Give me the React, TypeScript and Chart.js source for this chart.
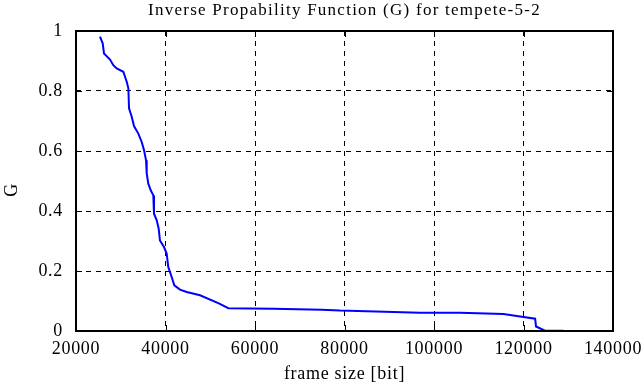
import React, { useEffect, useRef } from "react";
import { Chart, registerables } from "chart.js";

Chart.register(...registerables);

const titleText = "Inverse Propability Function (G) for tempete-5-2";
const xLabel = "frame size [bit]";
const yLabel = "G";

const frameSizes = [
  25363, 25966, 26258, 27600, 28340, 29090, 30580, 31330, 31700, 31850, 32450,
  32960, 33930, 34680, 35200, 35650, 35800, 36160, 36700, 37280, 37430, 38040,
  38480, 38760, 39660, 40260, 40620, 41380, 41970, 43240, 44740, 47720, 52030,
  54040, 64100, 74900, 78990, 96880, 105820, 115500, 119240, 122600, 122800,
  124800, 128900,
];
const gValues = [
  0.981, 0.959, 0.925, 0.905, 0.886, 0.875, 0.864, 0.831, 0.809, 0.742, 0.714,
  0.683, 0.658, 0.63, 0.603, 0.569, 0.525, 0.491, 0.469, 0.452, 0.391, 0.369,
  0.341, 0.302, 0.28, 0.258, 0.213, 0.18, 0.152, 0.138, 0.13, 0.119, 0.091,
  0.076, 0.074, 0.071, 0.068, 0.061, 0.061, 0.057, 0.048, 0.041, 0.015, 0.001,
  0.001,
];

const FONT = "'Liberation Serif', 'DejaVu Serif', serif";
const SPACING = "0.7px";

const framePlugin = {
  id: "framePlugin",
  beforeUpdate(chart: any) {
    chart.ctx.letterSpacing = SPACING;
  },
  beforeDraw(chart: any) {
    chart.ctx.letterSpacing = SPACING;
  },
  afterDraw(chart: any) {
    const { ctx, chartArea: a, scales } = chart;
    ctx.save();
    ctx.strokeStyle = "#000";
    ctx.lineWidth = 1;
    ctx.setLineDash([]);
    const t = 6;
    scales.x.ticks.forEach((tk: any) => {
      const px = Math.round(scales.x.getPixelForValue(tk.value)) + 0.5;
      ctx.beginPath();
      ctx.moveTo(px, a.bottom);
      ctx.lineTo(px, a.bottom - t);
      ctx.moveTo(px, a.top);
      ctx.lineTo(px, a.top + t);
      ctx.stroke();
    });
    scales.y.ticks.forEach((tk: any) => {
      const py = Math.round(scales.y.getPixelForValue(tk.value)) + 0.5;
      ctx.beginPath();
      ctx.moveTo(a.left, py);
      ctx.lineTo(a.left + t, py);
      ctx.moveTo(a.right, py);
      ctx.lineTo(a.right - t, py);
      ctx.stroke();
    });
    ctx.lineWidth = 2;
    ctx.strokeRect(a.left, a.top, a.right - a.left, a.bottom - a.top);
    ctx.fillStyle = "#000";
    ctx.letterSpacing = "1.25px";
    ctx.font = `17px ${FONT}`;
    ctx.textAlign = "center";
    ctx.textBaseline = "alphabetic";
    ctx.fillText(titleText, (a.left + a.right) / 2, 15);
    ctx.letterSpacing = SPACING;
    ctx.font = `18px ${FONT}`;
    ctx.translate(12, 190);
    ctx.rotate(-Math.PI / 2);
    ctx.textBaseline = "middle";
    ctx.fillText(yLabel, 0, 0);
    ctx.restore();
  },
};

export default function App() {
  const ref = useRef<HTMLCanvasElement | null>(null);
  useEffect(() => {
    document.body.style.margin = "0";
    const data = frameSizes.map((x, i) => ({ x, y: gValues[i] }));
    const chart = new Chart(ref.current as HTMLCanvasElement, {
      type: "line",
      data: {
        datasets: [
          {
            data,
            borderColor: "#0000ff",
            borderWidth: 2,
            pointRadius: 0,
            fill: false,
            tension: 0,
          },
        ],
      },
      options: {
        animation: false,
        responsive: false,
        maintainAspectRatio: false,
        layout: { padding: { top: 31, right: 31, left: 0, bottom: 0 } },
        plugins: { legend: { display: false }, tooltip: { enabled: false }, title: { display: false } },
        scales: {
          x: {
            type: "linear",
            min: 20000,
            max: 140000,
            afterFit: (s: any) => {
              s.height = 56;
              s.paddingRight = 0;
              s.paddingLeft = 0;
            },
            grid: { color: "#000", lineWidth: 1, drawTicks: false },
            border: { display: false, dash: [5, 5] },
            ticks: {
              stepSize: 20000,
              color: "#000",
              font: { family: FONT, size: 18 },
              padding: 7,
              maxRotation: 0,
              autoSkip: false,
              callback: (v: any) => String(v),
            },
            title: {
              display: true,
              text: xLabel,
              color: "#000",
              font: { family: FONT, size: 18 },
              padding: { top: 0, bottom: 2 },
            },
          },
          y: {
            min: 0,
            max: 1,
            afterFit: (s: any) => {
              s.width = 76;
              s.paddingTop = 0;
              s.paddingBottom = 0;
            },
            grid: { color: "#000", lineWidth: 1, drawTicks: false },
            border: { display: false, dash: [5, 5] },
            ticks: {
              stepSize: 0.2,
              color: "#000",
              font: { family: FONT, size: 18 },
              padding: 13,
              callback: (v: any) => String(Math.round(v * 10) / 10),
            },
            title: { display: false, text: yLabel },
          },
        },
      },
      plugins: [framePlugin],
    });
    return () => chart.destroy();
  }, []);
  return <canvas ref={ref} width={644} height={387} style={{ display: "block" }} />;
}
